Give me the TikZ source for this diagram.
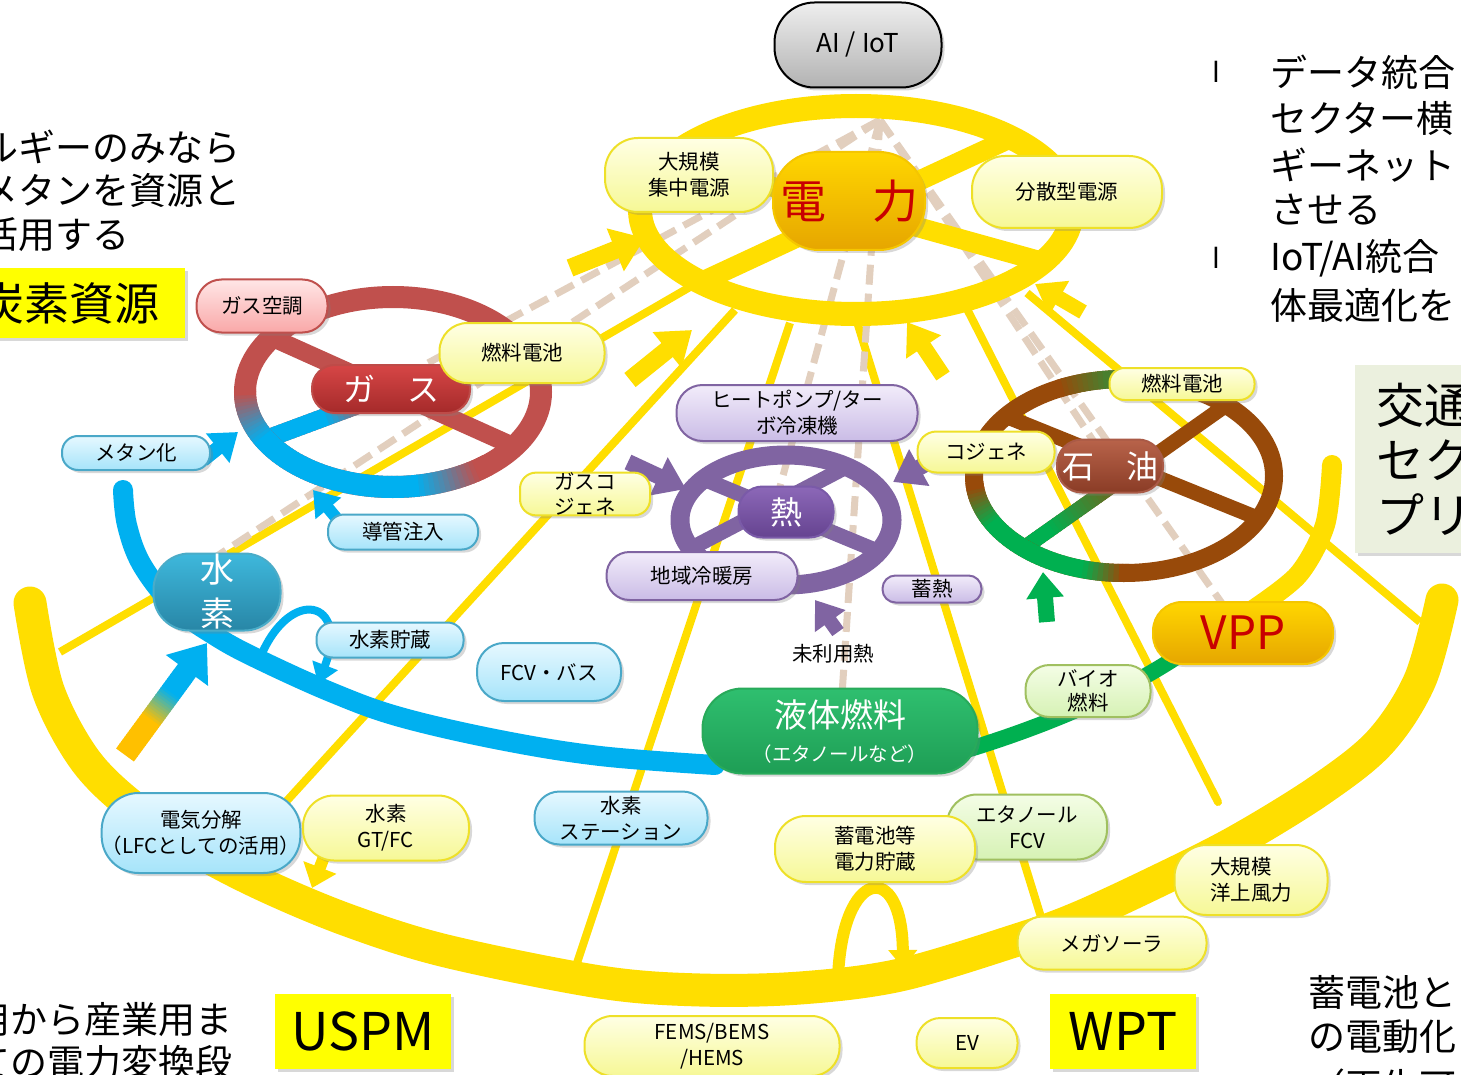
\documentclass[tikz,border=0pt]{standalone}
\usepackage{fontspec}
\setmainfont{Noto Sans CJK JP}
\newfontfamily\dejavu{DejaVu Sans}
\usetikzlibrary{arrows.meta,shadows}
\definecolor{ylw}{RGB}{255,222,0}
\definecolor{dashc}{RGB}{226,207,190}
\definecolor{gasred}{RGB}{192,80,77}
\definecolor{hblue}{RGB}{0,176,240}
\definecolor{oilbr}{RGB}{152,74,10}
\definecolor{grn}{RGB}{0,176,80}
\definecolor{purp}{RGB}{128,100,162}
\definecolor{orng}{RGB}{255,192,0}
\definecolor{ytop}{RGB}{255,255,228}
\definecolor{ybot}{RGB}{246,248,150}
\definecolor{ybord}{RGB}{238,224,40}
\definecolor{btop}{RGB}{230,248,255}
\definecolor{bbot}{RGB}{166,228,250}
\definecolor{bbord}{RGB}{74,168,200}
\definecolor{ptop}{RGB}{242,236,250}
\definecolor{pbot}{RGB}{202,188,230}
\definecolor{pbord}{RGB}{128,100,162}
\definecolor{gtop}{RGB}{244,253,230}
\definecolor{gbot}{RGB}{214,242,180}
\definecolor{gbord}{RGB}{160,192,96}
\definecolor{rtop}{RGB}{255,230,230}
\definecolor{rbot}{RGB}{249,168,168}
\definecolor{otop}{RGB}{255,214,0}
\definecolor{obot}{RGB}{230,166,0}
\definecolor{obord}{RGB}{245,198,0}
\definecolor{pwrred}{RGB}{200,0,0}
\definecolor{boxgrn}{RGB}{235,240,222}
\definecolor{bright}{RGB}{255,255,0}
\definecolor{aitop}{RGB}{238,238,238}
\definecolor{aibot}{RGB}{178,178,178}
\definecolor{gastop}{RGB}{214,70,70}
\definecolor{gasbot}{RGB}{165,42,42}
\definecolor{gasbord}{RGB}{190,75,72}
\definecolor{h2top}{RGB}{62,184,220}
\definecolor{h2bot}{RGB}{40,134,166}
\definecolor{h2bord}{RGB}{74,172,200}
\definecolor{nttop}{RGB}{140,104,184}
\definecolor{ntbot}{RGB}{101,67,144}
\definecolor{ntbord}{RGB}{122,90,168}
\definecolor{sytop}{RGB}{184,99,74}
\definecolor{sybot}{RGB}{138,60,38}
\definecolor{sybord}{RGB}{170,90,70}
\definecolor{lqtop}{RGB}{47,191,111}
\definecolor{lqbot}{RGB}{30,158,85}
\definecolor{lqbord}{RGB}{40,170,90}
\tikzset{
  shd/.style={drop shadow={opacity=0.3,shadow xshift=3pt,shadow yshift=-3pt}},
  box/.style={draw, line width=2pt, align=center, inner sep=0pt, rounded corners=16pt, shd},
  ynode/.style={box, draw=ybord, top color=ytop, bottom color=ybot},
  bnode/.style={box, draw=bbord, top color=btop, bottom color=bbot},
  pnode/.style={box, draw=pbord, top color=ptop, bottom color=pbot},
  gnode/.style={box, draw=gbord, top color=gtop, bottom color=gbot},
  fA/.style={font=\fontsize{20.5pt}{26pt}\selectfont},
  fBig/.style={font=\fontsize{37pt}{40pt}\selectfont},
  yline/.style={ylw, line width=8pt},
  dashl/.style={dashc, line width=7pt, dash pattern=on 20pt off 9pt},
}
\begin{document}
\begin{tikzpicture}[x=1pt,y=-1pt]
\useasboundingbox (0,0) rectangle (1461,1075);
\clip (0,0) rectangle (1461,1075);
\fill[white] (0,0) rectangle (1461,1075);

% ---- big yellow arcs and thin spokes
\draw[ylw,line width=33pt,line cap=round] plot[smooth,tension=0.55] coordinates {(30,603) (48,690) (85,760) (134,808) (200,852) (268,887) (350,921) (446,951) (600,982) (700,990) (800,988) (900,975) (1017,940) (1078,918) (1160,880) (1237,841) (1320,790) (1380,742) (1420,680) (1442,600)};
\draw[ylw,line width=20pt,line cap=round] plot[smooth] coordinates {(1332,465) (1325,525) (1298,575) (1250,612)};
\draw[yline] (690,287) -- (60,652);
\draw[yline] (735,310) -- (283,805);
\draw[yline] (790,323) -- (573,975);
\draw[yline] (858,325) -- (1045,930);
\draw[yline,line cap=round] (965,305) -- (1218,802);
\draw[yline] (1027,293) -- (1420,622);
\draw[ylw,line width=12pt,-{Triangle[width=28pt,length=18pt]}] (838,978) .. controls (842,868) and (902,858) .. (903,968);

% ---- dashed data links
\draw[dashl] (880,120) -- (400,378);
\draw[dashl] (880,120) -- (214,558);
\draw[dashl] (880,120) -- (775,505);
\draw[dashl] (880,120) -- (840,725);
\draw[dashl] (880,120) -- (1110,466);
\draw[dashl] (880,120) -- (1243,633);

% ---- power wheel
\draw[ylw,line width=20pt] ({856+216*cos(210)},{210+104*sin(210)}) -- ({856+216*cos(30)},{210+104*sin(30)});
\draw[ylw,line width=20pt] ({856+216*cos(136)},{210+104*sin(136)}) -- ({856+216*cos(316)},{210+104*sin(316)});
\draw[ylw,line width=24pt] (856,210) ellipse [x radius=216, y radius=104];

% ---- gas wheel
\draw[gasred,line width=18pt] ({393+148*cos(215)},{392+95*sin(215)}) -- ({393+148*cos(35)},{392+95*sin(35)});
\draw[gasred,line width=18pt] ({393+148*cos(150)},{392+95*sin(150)}) -- ({393+148*cos(330)},{392+95*sin(330)});
\foreach \i in {0,...,22}{%
  \pgfmathsetmacro\gf{100*(1-max(0,min(1,(\i/50-0.22)/0.18)))}%
  \draw[hblue!\gf!gasred,line width=18pt] ({264.8+256.4*\i/50},{439.5-95*\i/50}) -- ({264.8+256.4*(\i+1.4)/50},{439.5-95*(\i+1.4)/50});
}
\draw[gasred,line width=22pt] (393,392) ellipse [x radius=148, y radius=95];
\foreach \t in {50,52,...,180}{%
  \pgfmathsetmacro\gf{100*max(0,min(1,(\t-55)/25,(178-\t)/28))}%
  \pgfmathsetmacro\te{\t+2.6}%
  \draw[hblue!\gf!gasred,line width=22pt] plot[domain=\t:\te,samples=4] ({393+148*cos(\x)},{392+95*sin(\x)});
}

% ---- heat wheel
\draw[purp,line width=15pt] ({786+106*cos(219)},{520+65*sin(219)}) -- ({786+106*cos(29)},{520+65*sin(29)});
\draw[purp,line width=15pt] ({786+106*cos(305)},{520+65*sin(305)}) -- ({786+106*cos(154)},{520+65*sin(154)});
\draw[purp,line width=19pt] (786,520) ellipse [x radius=106, y radius=65];

% ---- oil wheel
\draw[oilbr,line width=15pt] ({1124+150*cos(218)},{476+97*sin(218)}) -- ({1124+150*cos(26)},{476+97*sin(26)});
\draw[oilbr,line width=15pt] ({1124+150*cos(313)},{476+97*sin(313)}) -- ({1124+150*cos(132)},{476+97*sin(132)});
\foreach \i in {0,...,24}{%
  \pgfmathsetmacro\gf{100-70*max(0,min(1,(\i/50-0.12)/0.3))}%
  \draw[grn!\gf!oilbr,line width=15pt] ({1023.6+202.7*\i/50},{548.1-143*\i/50}) -- ({1023.6+202.7*(\i+1.4)/50},{548.1-143*(\i+1.4)/50});
}
\draw[oilbr,line width=18pt] (1124,476) ellipse [x radius=150, y radius=97];
\foreach \t in {88,90,...,174}{%
  \pgfmathsetmacro\gf{100*max(0,min(1,(\t-90)/15,(172-\t)/22))}%
  \pgfmathsetmacro\te{\t+2.6}%
  \draw[grn!\gf!oilbr,line width=18pt] plot[domain=\t:\te,samples=4] ({1124+150*cos(\x)},{476+97*sin(\x)});
}
\foreach \t in {244,246,...,282}{%
  \pgfmathsetmacro\gf{55*max(0,1-abs(\t-263)/19)}%
  \pgfmathsetmacro\te{\t+2.6}%
  \draw[grn!\gf!oilbr,line width=18pt] plot[domain=\t:\te,samples=4] ({1124+150*cos(\x)},{476+97*sin(\x)});
}

% ---- hydrogen arc, storage loop, green fuel link
\draw[hblue,line width=20pt,line cap=round] plot[smooth,tension=0.6] coordinates {(123,490) (127,525) (142,565) (175,607) (217,637) (260,660) (333,693) (400,717) (500,740) (600,756) (715,765)};
\draw[hblue,line width=8pt,-{Triangle[width=26pt,length=20pt]}] (260,658) .. controls (290,585) and (350,600) .. (318,684);
\draw[grn,line width=16pt] (960,752) .. controls (1050,725) and (1130,690) .. (1190,648);

% ---- thick arrows
\draw[ylw,line width=18pt,-{Triangle[width=44pt,length=32pt]}] (570,268) -- (645,238);
\draw[ylw,line width=18pt,-{Triangle[width=44pt,length=32pt]}] (630,380) -- (692,330);
\draw[ylw,line width=16pt,-{Triangle[width=40pt,length=30pt]}] (943,376) -- (907,322);
\draw[ylw,line width=15pt,-{Triangle[width=38pt,length=28pt]}] (1083,312) -- (1035,284);
\draw[ylw,line width=12pt,-{Triangle[width=34pt,length=22pt]}] (332,836) -- (312,888);
\draw[hblue,line width=14pt,-{Triangle[width=36pt,length=26pt]}] (203,460) -- (238,432);
\draw[hblue,line width=12pt,-{Triangle[width=32pt,length=24pt]}] (338,520) -- (313,490);
\foreach \i in {0,...,34}{%
  \pgfmathsetmacro\gf{100*max(0,min(1,(\i/50-0.3)/0.25))}%
  \draw[hblue!\gf!orng,line width=22pt] ({125+82*\i/50},{755-112*\i/50}) -- ({125+82*(\i+1.4)/50},{755-112*(\i+1.4)/50});
}
\draw[hblue,line width=22pt,-{Triangle[width=50pt,length=34pt]}] ({125+82*0.7},{755-112*0.7}) -- (207,643);
\draw[purp,line width=16pt,-{Triangle[width=40pt,length=30pt]}] (628,462) -- (686,489);
\draw[purp,line width=16pt,-{Triangle[width=40pt,length=30pt]}] (942,455) -- (893,482);
\draw[purp,line width=14pt,-{Triangle[width=36pt,length=26pt]}] (838,632) -- (815,600);
\draw[grn,line width=16pt,-{Triangle[width=36pt,length=26pt]}] (1047,622) -- (1043,572);

% ---- nodes
\node (ai) [box, draw=black, top color=aitop, bottom color=aibot, minimum width=167pt, minimum height=85pt, rounded corners=40pt, font=\fontsize{26pt}{30pt}\selectfont] at (858,45) {AI / IoT};
\node (daikibo) [ynode, fA, minimum width=168pt, minimum height=74pt, rounded corners=33pt] at (689,175) {大規模\\集中電源};
\node (denryoku) [box, draw=obord, top color=otop, bottom color=obot, text=pwrred, minimum width=152pt, minimum height=98pt, rounded corners=46pt, font=\fontsize{46pt}{50pt}\selectfont] at (849,201) {電　力};
\node (bunsan) [ynode, fA, minimum width=190pt, minimum height=72pt, rounded corners=33pt] at (1067,192) {分散型電源};
\node (gaskucho) [box, draw=gasred, top color=rtop, bottom color=rbot, fA, minimum width=131pt, minimum height=53pt, rounded corners=25pt] at (262,306) {ガス空調};
\node (gas) [box, draw=gasbord, top color=gastop, bottom color=gasbot, text=white, font=\fontsize{32pt}{36pt}\selectfont, minimum width=158pt, minimum height=48pt, rounded corners=23pt] at (391,389) {ガ　ス};
\node (fc1) [ynode, fA, minimum width=165pt, minimum height=60pt, rounded corners=28pt] at (522,353) {燃料電池};
\node (metan) [bnode, fA, minimum width=148pt, minimum height=34pt] at (136,453) {メタン化};
\node (dokan) [bnode, fA, minimum width=150pt, minimum height=35pt] at (403,532) {導管注入};
\node (suiso) [box, draw=h2bord, top color=h2top, bottom color=h2bot, text=white, font=\fontsize{34pt}{44pt}\selectfont, minimum width=127pt, minimum height=77pt, rounded corners=36pt] at (217,592) {水\\素};
\node (chozo) [bnode, fA, minimum width=147pt, minimum height=35pt] at (390,640) {水素貯蔵};
\node (fcv) [bnode, fA, minimum width=144pt, minimum height=58pt, rounded corners=27pt] at (549,672) {FCV・バス};
\node (hp) [pnode, fA, minimum width=241pt, minimum height=56pt, rounded corners=26pt] at (797,413) {ヒートポンプ/ター\\ボ冷凍機};
\node (netsu) [box, draw=ntbord, top color=nttop, bottom color=ntbot, text=white, font=\fontsize{32pt}{36pt}\selectfont, minimum width=95pt, minimum height=51pt, rounded corners=24pt] at (786,512) {熱};
\node (chiiki) [pnode, fA, minimum width=191pt, minimum height=48pt, rounded corners=23pt] at (702,576) {地域冷暖房};
\node (chikunetsu) [pnode, fA, minimum width=99pt, minimum height=27pt, rounded corners=13pt] at (932,589) {蓄熱};
\node (gascoge) [ynode, font=\fontsize{20.5pt}{25pt}\selectfont, minimum width=130pt, minimum height=35pt] at (585,494) {ガスコ\\ジェネ};
\node (coge) [ynode, fA, minimum width=137pt, minimum height=41pt, rounded corners=19pt] at (986,452) {コジェネ};
\node (sekiyu) [box, draw=sybord, top color=sytop, bottom color=sybot, text=white, font=\fontsize{32pt}{36pt}\selectfont, minimum width=106pt, minimum height=53pt, rounded corners=25pt] at (1110,466) {石　油};
\node (fc2) [ynode, fA, minimum width=145pt, minimum height=32pt, rounded corners=15pt] at (1182,384) {燃料電池};
\node (miriyo) [fA, inner sep=0pt] at (833,654) {未利用熱};
\node (vpp) [box, draw=obord, top color=otop, bottom color=obot, text=pwrred, font=\fontsize{46pt}{50pt}\selectfont, minimum width=180pt, minimum height=62pt, rounded corners=29pt] at (1243,633) {VPP};
\node (ekitai) [box, draw=lqbord, top color=lqtop, bottom color=lqbot, text=white, minimum width=275pt, minimum height=85pt, rounded corners=40pt, font=\fontsize{33pt}{34pt}\selectfont] at (840,731) {液体燃料\\{\fontsize{19.5pt}{34pt}\selectfont （エタノールなど）}};
\node (bio) [gnode, font=\fontsize{20.5pt}{24pt}\selectfont, minimum width=125pt, minimum height=52pt, rounded corners=24pt] at (1088,691) {バイオ\\燃料};
\node (etfcv) [gnode, fA, minimum width=160pt, minimum height=65pt, rounded corners=30pt] at (1027,827) {エタノール\\FCV};
\node (chikuden) [ynode, fA, minimum width=200pt, minimum height=66pt, rounded corners=31pt] at (875,849) {蓄電池等\\電力貯蔵};
\node (yojo) [ynode, fA, align=left, minimum width=153pt, minimum height=70pt, rounded corners=32pt] at (1251,880) {大規模\\洋上風力};
\node (mega) [ynode, fA, minimum width=189pt, minimum height=53pt, rounded corners=25pt] at (1112,943) {メガソーラ};
\node (station) [bnode, fA, minimum width=173pt, minimum height=53pt, rounded corners=25pt] at (621,818) {水素\\ステーション};
\node (denki) [bnode, fA, minimum width=191pt, minimum height=80pt, rounded corners=37pt] at (201,833) {電気分解\\（LFCとしての活用）};
\node (gtfc) [ynode, fA, minimum width=166pt, minimum height=65pt, rounded corners=31pt] at (386,828) {水素\\GT/FC};
\node (fems) [ynode, fA, minimum width=255pt, minimum height=60pt, rounded corners=28pt] at (712,1046) {FEMS/BEMS\\/HEMS};
\node (ev) [ynode, fA, minimum width=101pt, minimum height=50pt, rounded corners=24pt] at (967,1043) {EV};

% ---- boxes and texts around
\node (tansobox) [fill=bright, shd, minimum width=195pt, minimum height=70pt, inner sep=0pt, anchor=north west] at (-10,268) {};
\node (tanso) [inner sep=0pt, font=\fontsize{45pt}{50pt}\selectfont] at (70,303) {炭素資源};
\node (uspm) [fill=bright, shd, minimum width=176pt, minimum height=75pt, inner sep=0pt, font=\fontsize{52pt}{56pt}\selectfont] at (363,1031) {USPM};
\node (wpt) [fill=bright, shd, minimum width=146pt, minimum height=75pt, inner sep=0pt, font=\fontsize{52pt}{56pt}\selectfont] at (1123,1031) {WPT};
\node (kotsubox) [fill=boxgrn, shd, minimum width=120pt, minimum height=188pt, inner sep=0pt, anchor=north west] at (1355,365) {};
\node (k1) [anchor=west, inner sep=0pt, font=\fontsize{48pt}{52pt}\selectfont] at (1376,405) {交通};
\node (k2) [anchor=west, inner sep=0pt, font=\fontsize{48pt}{52pt}\selectfont] at (1376,460) {セク};
\node (k3) [anchor=west, inner sep=0pt, font=\fontsize{48pt}{52pt}\selectfont] at (1376,515) {プリ};

\node (tl1) [anchor=west, inner sep=0pt, fBig] at (-19,147) {ルギーのみなら};
\node (tl2) [anchor=west, inner sep=0pt, fBig] at (-19,190) {メタンを資源と};
\node (tl3) [anchor=west, inner sep=0pt, fBig] at (-19,235) {活用する};

\node (b1) [inner sep=0pt, font=\dejavu\fontsize{28pt}{32pt}\selectfont] at (1216,72) {l};
\node (b2) [inner sep=0pt, font=\dejavu\fontsize{28pt}{32pt}\selectfont] at (1216,258) {l};
\node (tr1) [anchor=west, inner sep=0pt, fBig] at (1270,72) {データ統合};
\node (tr2) [anchor=west, inner sep=0pt, fBig] at (1270,118) {セクター横};
\node (tr3) [anchor=west, inner sep=0pt, fBig] at (1270,165) {ギーネット};
\node (tr4) [anchor=west, inner sep=0pt, fBig] at (1270,210) {させる};
\node (tr5) [anchor=west, inner sep=0pt, fBig] at (1270,258) {IoT/AI統合};
\node (tr6) [anchor=west, inner sep=0pt, fBig] at (1270,305) {体最適化を};

\node (bl1) [anchor=west, inner sep=0pt, fBig] at (-27,1020) {用から産業用ま};
\node (bl2) [anchor=west, inner sep=0pt, fBig] at (-27,1062) {ての電力変換段};

\node (br1) [anchor=west, inner sep=0pt, fBig] at (1308,992) {蓄電池と};
\node (br2) [anchor=west, inner sep=0pt, fBig] at (1308,1037) {の電動化};
\node (br3) [anchor=west, inner sep=0pt, fBig] at (1308,1086) {（再生可能};
\end{tikzpicture}
\end{document}
